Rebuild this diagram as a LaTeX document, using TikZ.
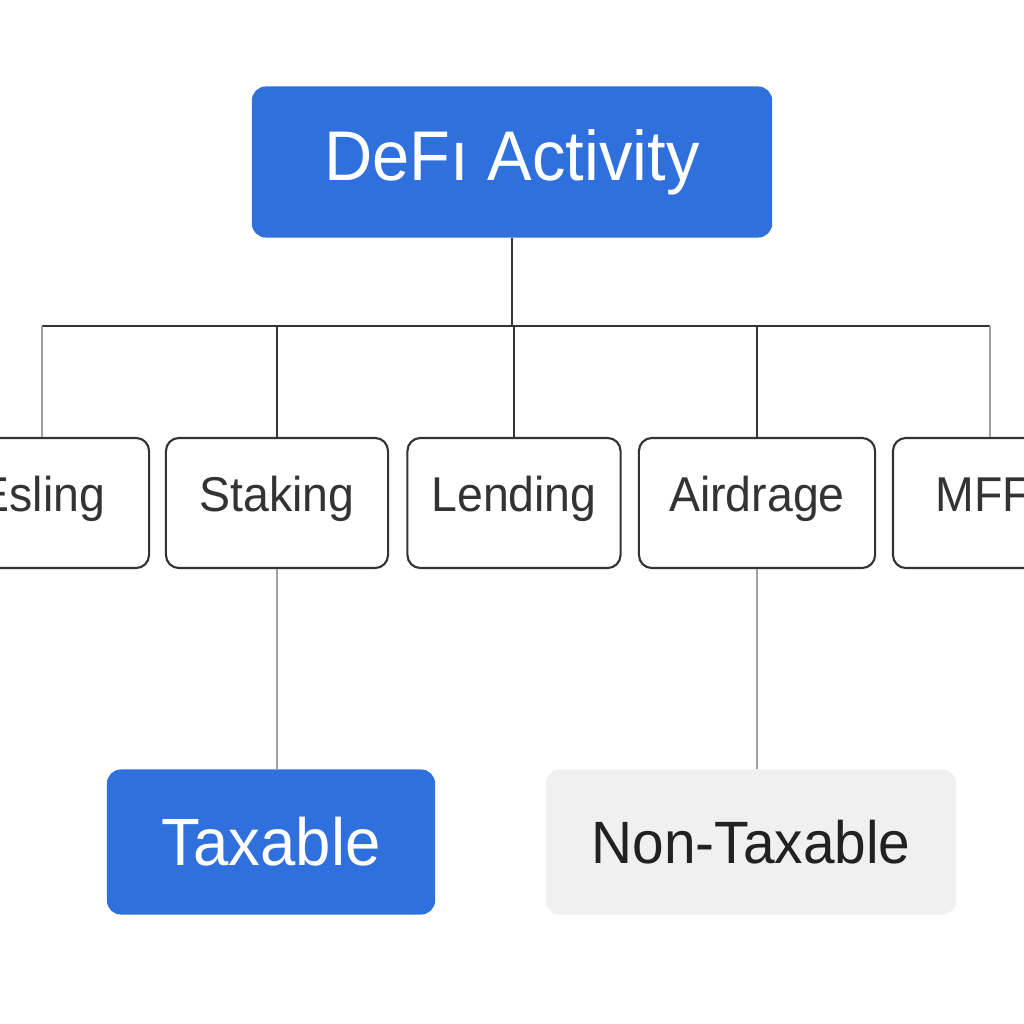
\documentclass[tikz,border=0pt]{standalone}
\usepackage{fontspec}
\setmainfont[FakeStretch=0.95]{Liberation Sans}
\usetikzlibrary{positioning}

\definecolor{defiblue}{RGB}{48,112,221}
\definecolor{boxline}{RGB}{51,51,51}
\definecolor{paleline}{RGB}{160,160,160}
\definecolor{nontaxfill}{RGB}{240,240,240}

\begin{document}
\begin{tikzpicture}[x=0.01cm,y=-0.01cm,
  catbox/.style={draw=boxline,line width=0.6pt,rounded corners=0.13cm,fill=white,
    minimum height=1.30cm,inner sep=0pt,text=boxline,text height=0.72em,text depth=0.21em,
    font=\fontsize{13.9}{16}\selectfont},
  bluebox/.style={fill=defiblue,rounded corners=0.14cm,inner sep=0pt,text=white},
  stem/.style={line width=0.6pt,draw=boxline},
  palestem/.style={line width=0.6pt,draw=paleline}]
\useasboundingbox (0,0) rectangle (1024,1024);
\clip (0,0) rectangle (1024,1024);
% top
\node[bluebox,minimum width=5.20cm,minimum height=1.51cm,
  font=\fontsize{20}{24}\selectfont] (defi) at (512,162) {DeFı Activity};
% categories
\node[catbox,minimum width=2.14cm] (esl) at (42,503) {Esling};
\node[catbox,minimum width=2.22cm] (stk) at (277,503) {Staking};
\node[catbox,minimum width=2.13cm] (lnd) at (514,503) {Lending};
\node[catbox,minimum width=2.36cm] (air) at (757,503) {Airdrage};
\node[catbox,minimum width=1.94cm] (mffi) at (990,503) {MFFI};
% outcomes
\node[bluebox,minimum width=3.28cm,minimum height=1.45cm,
  font=\fontsize{19}{23}\selectfont] (tax) at (271,842) {Taxable};
\node[fill=nontaxfill,rounded corners=0.14cm,inner sep=0pt,text=black!87,
  minimum width=4.10cm,minimum height=1.45cm,
  font=\fontsize{17}{21}\selectfont] (ntax) at (751,842) {Non-Taxable};
% tree
\coordinate (bus) at (512,326);
\draw[stem] (defi.south) -- (bus);
\draw[stem] (esl.north |- bus) -- (mffi.north |- bus);
\draw[palestem] (esl.north |- bus) -- (esl.north);
\draw[palestem] (mffi.north |- bus) -- (mffi.north);
\foreach \n in {stk,lnd,air}{\draw[stem] (\n.north |- bus) -- (\n.north);}
\draw[palestem] (stk.south) -- (stk.south |- tax.north);
\draw[palestem] (air.south) -- (air.south |- ntax.north);
\end{tikzpicture}
\end{document}
